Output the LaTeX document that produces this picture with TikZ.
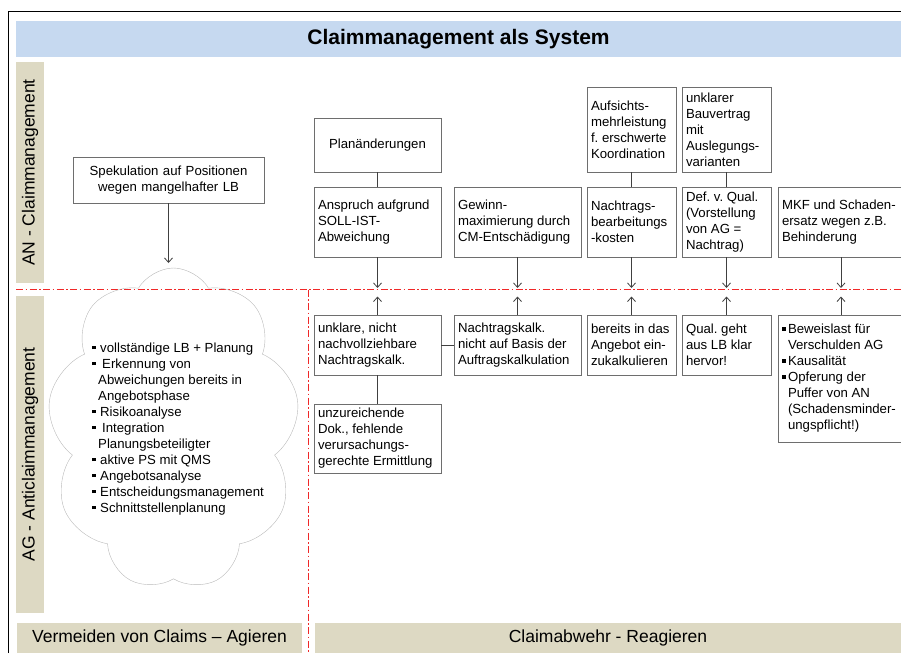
\documentclass[tikz,border=0pt]{standalone}
\usepackage{fontspec}
\setmainfont{Liberation Sans}
\usepackage{tikz}
\usetikzlibrary{shapes,arrows,arrows.meta,positioning}

\definecolor{titleblue}{HTML}{C6D9F0}
\definecolor{khaki}{HTML}{DDD9C3}
\definecolor{boxline}{HTML}{6E6E6E}
\definecolor{linkgray}{HTML}{404040}
\definecolor{dashred}{HTML}{F02828}

\newcommand{\boxfont}{\fontsize{13.2}{16}\selectfont}
\newcommand{\bul}[1][7pt]{\makebox[#1][l]{\rule[3.2pt]{3.6pt}{3.6pt}}}
\hyphenpenalty=10000
\frenchspacing

\begin{document}
\begin{tikzpicture}[x=1pt, y=1pt,
    box/.style={draw=boxline, fill=white, inner xsep=4pt, inner ysep=0pt,
      align=flush left, font=\boxfont},
    wide/.style={box, text width=119pt},
    narrow/.style={box, text width=81pt},
    band/.style={fill=#1, inner sep=0pt},
    arr/.style={draw=linkgray, line width=0.8pt, -{Straight Barb[length=4.5pt,width=8pt]}},
    link/.style={draw=linkgray, line width=0.8pt}]
  \useasboundingbox (0,0) rectangle (901,-653);

  % frame and bands
  \draw[line width=1pt] (8,-653) -- (8,-11) -- (901,-11);
  \node[band=titleblue, minimum width=885pt, minimum height=36pt,
    font=\fontsize{21}{24}\selectfont\bfseries] (title) at (458.5,-39) {Claimmanagement als System};
  \node[band=khaki, rotate=90, minimum width=221pt, minimum height=28pt,
    font=\fontsize{17.5}{20}\selectfont] (an) at (30,-172.5) {AN - Claimmanagement};
  \node[band=khaki, rotate=90, minimum width=317pt, minimum height=28pt,
    font=\fontsize{17.5}{20}\selectfont] (ag) at (30,-454.5) {AG - Anticlaimmanagement};
  \node[band=khaki, minimum width=285pt, minimum height=30pt,
    font=\fontsize{17.5}{20}\selectfont] (agieren) at (159.5,-638) {Vermeiden von Claims -- Agieren};
  \node[band=khaki, minimum width=586pt, minimum height=30pt,
    font=\fontsize{17.5}{20}\selectfont] (reagieren) at (608,-638) {Claimabwehr - Reagieren};
  \draw[dashred, line width=0.8pt, dash pattern=on 7pt off 2.5pt on 1.5pt off 2.5pt]
    (16,-289.5) -- (901,-289.5) (308,-289.5) -- (308,-653);

  % AN side
  \node[wide, align=center, minimum height=54pt] (A) at (377.5,-145) {Planänderungen};
  \node[wide, minimum height=70pt] (B) at (377.5,-222) {Anspruch aufgrund\\SOLL-IST-\\Abweichung};
  \node[wide, minimum height=70pt] (C) at (517.5,-222) {Gewinn-\\maximierung durch\\CM-Entschädigung};
  \node[narrow, minimum height=85pt] (D) at (631.5,-129.5) {Aufsichts-\\mehrleistung\\f. erschwerte\\Koordination};
  \node[narrow, minimum height=70pt] (E) at (631.5,-222) {Nachtrags-\\bearbeitungs\\-kosten};
  \node[narrow, minimum height=85pt] (F) at (726.5,-129.5) {unklarer\\Bauvertrag\\mit\\Auslegungs-\\varianten};
  \node[narrow, minimum height=70pt] (G) at (726.5,-222) {Def. v. Qual.\\(Vorstellung\\von AG =\\Nachtrag)};
  \node[box, text width=118pt, minimum height=70pt] (H) at (841,-222) {MKF und Schaden-\\ersatz wegen z.B.\\Behinderung};
  \node[box, text width=183pt, align=center, minimum height=46pt] (I) at (168.5,-180) {Spekulation auf Positionen\\wegen mangelhafter LB};

  % AG side
  \node[wide, minimum height=60pt] (J) at (377.5,-345) {unklare, nicht\\nachvollziehbare\\Nachtragskalk.};
  \node[wide, minimum height=60pt] (K) at (517.5,-345) {Nachtragskalk.\\nicht auf Basis der\\Auftragskalkulation};
  \node[wide, minimum height=69pt] (L) at (377.5,-438.5) {unzureichende\\Dok., fehlende\\verursachungs-\\gerechte Ermittlung};
  \node[narrow, minimum height=60pt] (M) at (631.5,-345) {bereits in das\\Angebot ein-\\zukalkulieren};
  \node[narrow, minimum height=60pt] (N) at (726.5,-345) {Qual. geht\\aus LB klar\\hervor!};
  \node[box, text width=118pt, minimum height=127pt] (O) at (841,-378.5) {\bul[6pt]Beweislast für\\\hspace*{6pt}Verschulden AG\\\bul[6pt]Kausalität\\\bul[6pt]Opferung der\\\hspace*{6pt}Puffer von AN\\\hspace*{6pt}(Schadensminder-\\\hspace*{6pt}ungspflicht!)};

  \node[cloud, cloud ignores aspect, cloud puffs=9, cloud puff arc=120, draw=gray!55,
    minimum width=252pt, minimum height=322pt] (W) at (173.5,-429) {};
  \node[anchor=west, align=flush left, font=\boxfont, inner sep=0pt] (T) at (92,-429)
    {\bul[8pt]vollständige LB + Planung\\
     \bul[10pt]Erkennung von\\
     \hspace*{6pt}Abweichungen bereits in\\
     \hspace*{6pt}Angebotsphase\\
     \bul[8pt]Risikoanalyse\\
     \bul[10pt]Integration\\
     \hspace*{6pt}Planungsbeteiligter\\
     \bul[8pt]aktive PS mit QMS\\
     \bul[8pt]Angebotsanalyse\\
     \bul[8pt]Entscheidungsmanagement\\
     \bul[8pt]Schnittstellenplanung};

  % free ends on the dividing line
  \coordinate (s1) at (I.south |- 0,-263);
  \coordinate (d1) at (B.south |- 0,-288);
  \coordinate (d2) at (C.south |- 0,-288);
  \coordinate (d3) at (E.south |- 0,-288);
  \coordinate (d4) at (G.south |- 0,-288);
  \coordinate (d5) at (H.south |- 0,-288);
  \coordinate (u1) at (J.north |- 0,-296.5);
  \coordinate (u2) at (K.north |- 0,-296.5);
  \coordinate (u3) at (M.north |- 0,-296.5);
  \coordinate (u4) at (N.north |- 0,-296.5);
  \coordinate (u5) at (O.north |- 0,-296.5);

  \path (A) edge[link] (B)
        (D) edge[link] (E)
        (F) edge[link] (G)
        (J) edge[link] (K)
        (J) edge[link] (L);
  \path (I) edge[arr] (s1)
        (B) edge[arr] (d1)
        (C) edge[arr] (d2)
        (E) edge[arr] (d3)
        (G) edge[arr] (d4)
        (H) edge[arr] (d5)
        (J) edge[arr] (u1)
        (K) edge[arr] (u2)
        (M) edge[arr] (u3)
        (N) edge[arr] (u4)
        (O) edge[arr] (u5);
\end{tikzpicture}
\end{document}
